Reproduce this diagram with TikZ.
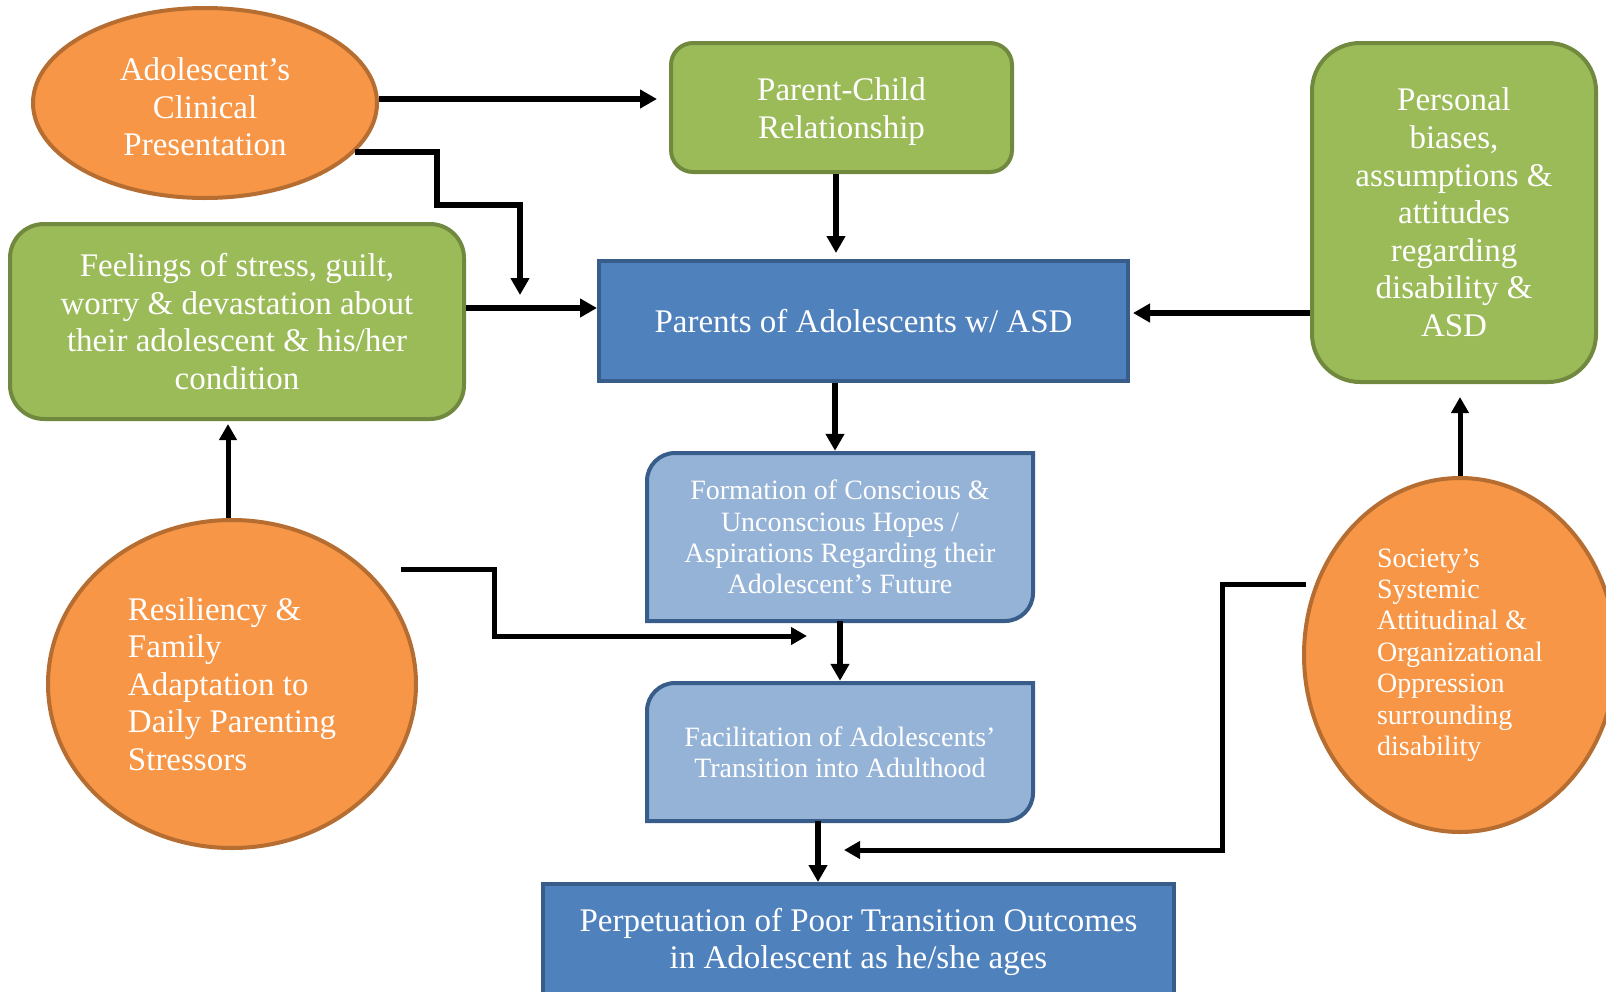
\documentclass[tikz,border=0pt]{standalone}
\usepackage{fontspec}
\setmainfont{Liberation Serif}
\usetikzlibrary{shapes.geometric,arrows.meta}

\definecolor{orangeF}{HTML}{F79646}
\definecolor{orangeD}{HTML}{B66D31}
\definecolor{greenF}{HTML}{9BBB59}
\definecolor{greenD}{HTML}{71893F}
\definecolor{blueF}{HTML}{4F81BD}
\definecolor{blueD}{HTML}{385D8A}
\definecolor{lblueF}{HTML}{95B3D7}

% rectangle with rounded top-left and bottom-right corners
\newcommand{\diagcorners}[6]{%
  \draw[#1] (#2,#5) -- (#2,{#3+#6})
    .. controls (#2,{#3+0.448*#6}) and ({#2+0.448*#6},#3) .. ({#2+#6},#3)
    -- (#4,#3) -- (#4,{#5-#6})
    .. controls (#4,{#5-0.448*#6}) and ({#4-0.448*#6},#5) .. ({#4-#6},#5)
    -- cycle;}

% taller first line, to sit a text block a little lower
\newcommand{\lowerstrut}{\rule{0pt}{31pt}}

\tikzset{
  bigtxt/.style={text=white, font=\fontsize{33}{37.6}\selectfont, align=center, inner sep=0pt},
  smalltxt/.style={text=white, font=\fontsize{28}{31.4}\selectfont, align=center, inner sep=0pt},
  oval/.style={ellipse, fill=orangeF, draw=orangeD, line width=4pt},
  greenbox/.style={rectangle, fill=greenF, draw=greenD, line width=4pt},
  bluebox/.style={rectangle, fill=blueF, draw=blueD, line width=4pt},
  lightshape/.style={fill=lblueF, draw=blueD, line width=4pt},
  arr/.style={-{Triangle[length=17pt,width=18pt]}, line width=5.5pt},
  arrmid/.style={-{Triangle[length=16pt,width=17pt]}, line width=5pt},
  arrthin/.style={-{Triangle[length=16pt,width=17pt]}, line width=5pt},
}

\begin{document}
\begin{tikzpicture}[x=1pt,y=-1pt]
\useasboundingbox (0,0) rectangle (1606,991);

% ovals
\node[oval, bigtxt, minimum width=344pt, minimum height=190pt] (A) at (205,103)
  {\lowerstrut Adolescent’s\\Clinical\\Presentation};
\node[oval, bigtxt, align=left, minimum width=368pt, minimum height=328pt] (rs) at (232,684)
  {Resiliency \&\\Family\\Adaptation to\\Daily Parenting\\Stressors};
\node[oval, smalltxt, align=left, minimum width=312pt, minimum height=354pt] (so) at (1460,655)
  {Society’s\\Systemic\\Attitudinal \&\\Organizational\\Oppression\\surrounding\\disability};

% green boxes
\node[greenbox, bigtxt, rounded corners=22pt, minimum width=341pt, minimum height=129pt] (pc) at (841.5,107.5)
  {\lowerstrut Parent-Child\\Relationship};
\node[greenbox, bigtxt, rounded corners=48pt, minimum width=284pt, minimum height=339pt] (pb) at (1454,212.5)
  {Personal\\biases,\\assumptions \&\\attitudes\\regarding\\disability \&\\ASD};
\node[greenbox, bigtxt, rounded corners=34pt, minimum width=454pt, minimum height=195pt] (fe) at (237,321.5)
  {Feelings of stress, guilt,\\worry \& devastation about\\their adolescent \& his/her\\condition};

% blue boxes
\node[bluebox, bigtxt, minimum width=529pt, minimum height=120pt] (pa) at (863.5,321)
  {Parents of Adolescents w/ ASD};
\node[bluebox, bigtxt, minimum width=631pt, minimum height=116pt] (pp) at (858.5,942)
  {Perpetuation of Poor Transition Outcomes\\in Adolescent as he/she ages};

% light blue boxes
\diagcorners{lightshape}{647}{453}{1033}{621}{28}
\node[smalltxt, minimum width=386pt, minimum height=168pt] (fo) at (840,537)
  {Formation of Conscious \&\\Unconscious Hopes /\\Aspirations Regarding their\\Adolescent’s Future};
\diagcorners{lightshape}{647}{683}{1033}{821}{28}
\node[smalltxt, minimum width=386pt, minimum height=138pt] (fa) at (840,752)
  {Facilitation of Adolescents’\\Transition into Adulthood};

% connectors
\coordinate (t1) at (657,99);
\draw[arr] (A.east |- t1) -- (t1);

\coordinate (t2) at (520,295);
\draw[arr] (A.-18) -| (437,205) -| (t2);

\draw[arr] ([yshift=13.5pt]fe.east) -- ([yshift=13.5pt]fe.east -| pa.west);

\draw[arr, shorten >=6pt] ([xshift=-5.5pt]pc.south) -- ([xshift=-5.5pt]pc.south |- pa.north);

\coordinate (t5) at (1133,313);
\draw[arr] (pb.west |- t5) -- (t5);

\draw[arr, shorten >=2pt] ([xshift=-5pt]fo.north |- pa.south) -- ([xshift=-5pt]fo.north);

\draw[arrthin, shorten >=3pt] ([xshift=-4pt]rs.north) -- ([xshift=-4pt]rs.north |- fe.south);

\coordinate (s8) at (401,569);
\coordinate (t8) at (807,636);
\draw[arrmid] (s8) -| (494,636) -- (t8);

\draw[arr, shorten >=2pt] (fo.south) -- (fa.north);

\draw[arrthin, shorten >=13pt] (so.north) -- (so.north |- pb.south);

\coordinate (s11) at (1306,584);
\coordinate (t11) at (844,850);
\draw[arrmid] (s11) -| (1222,850) -- (t11);

\draw[arr] ([xshift=-22pt]fa.south) -- ([xshift=-22pt]fa.south |- pp.north);
\end{tikzpicture}
\end{document}
